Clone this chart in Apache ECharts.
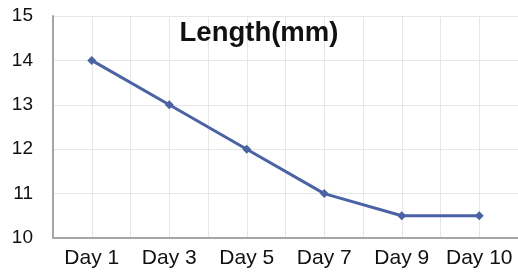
<!DOCTYPE html>
<html><head><meta charset="utf-8">
<script src="https://cdn.jsdelivr.net/npm/echarts@6/dist/echarts.min.js"></script>
<style>html,body{margin:0;padding:0;background:#fff}#c{width:518px;height:272px}</style>
</head><body><div id="c"></div>
<script>
const categories = ['Day 1', 'Day 3', 'Day 5', 'Day 7', 'Day 9', 'Day 10'];
const lengthValues = [14, 13, 12, 11, 10.5, 10.5];
const yTicks = [10, 11, 12, 13, 14, 15];
const titleText = 'Length(mm)';

const halfSlots = [];
categories.forEach(c => { halfSlots.push(c + 'a'); halfSlots.push(c + 'b'); });

const chart = echarts.init(document.getElementById('c'));
chart.setOption({
  animation: false,
  title: {
    text: titleText, left: 254, top: 14, textAlign: 'center',
    textStyle: { fontFamily: 'Liberation Sans, Arial', fontWeight: 'bold', fontSize: 27.5, color: '#111' }
  },
  grid: { left: 53, right: -1, top: 16, bottom: 34, containLabel: false },
  xAxis: [{
    type: 'category', data: categories, boundaryGap: true,
    axisLine: { show: true, lineStyle: { color: '#a6a6a6', width: 2 } },
    axisTick: { show: false },
    splitLine: { show: false },
    axisLabel: { interval: 0, hideOverlap: false, color: '#111', fontSize: 21, fontFamily: 'Liberation Sans, Arial', margin: 10 }
  }, {
    type: 'category', data: halfSlots, boundaryGap: true, position: 'bottom',
    axisLine: { show: false }, axisTick: { show: false }, axisLabel: { show: false },
    splitLine: { show: true, interval: 0, lineStyle: { color: '#e6e6e6', width: 1 } }
  }],
  yAxis: {
    type: 'value', min: yTicks[0], max: yTicks[yTicks.length - 1], interval: 1,
    axisLine: { show: true, lineStyle: { color: '#a6a6a6', width: 2 } },
    axisTick: { show: false },
    splitLine: { show: true, lineStyle: { color: '#e6e6e6', width: 1 } },
    axisLabel: { color: '#111', fontSize: 19, fontFamily: 'Liberation Sans, Arial', margin: 20 }
  },
  series: [{
    type: 'line', data: lengthValues, xAxisIndex: 0,
    symbol: 'diamond', symbolSize: 9,
    lineStyle: { color: '#4a62a6', width: 3 },
    itemStyle: { color: '#4a62a6' }
  }]
});
</script></body></html>
